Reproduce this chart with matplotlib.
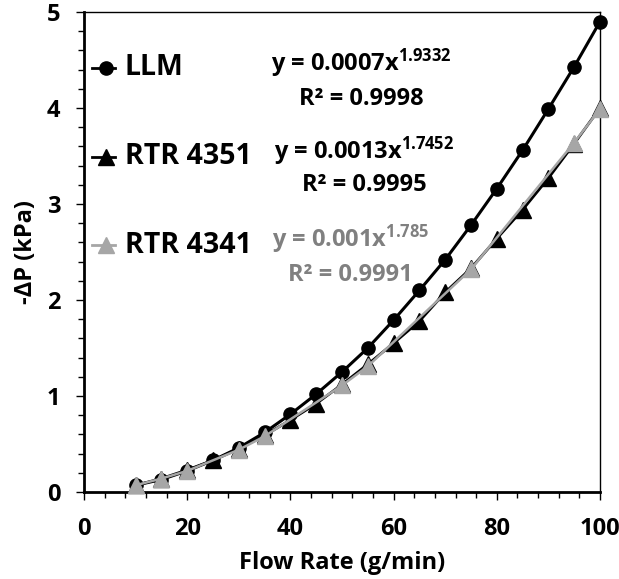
import matplotlib
matplotlib.use("Agg")
import matplotlib.pyplot as plt
from matplotlib.ticker import MultipleLocator

plt.rcParams['font.family'] = ['Open Sans', 'DejaVu Sans']
plt.rcParams['font.weight'] = 'bold'
plt.rcParams['mathtext.fontset'] = 'custom'
plt.rcParams['mathtext.rm'] = 'Open Sans:bold'
plt.rcParams['mathtext.it'] = 'Open Sans:bold'
plt.rcParams['mathtext.bf'] = 'Open Sans:bold'

# Data
flow = [10, 15, 20, 25, 30, 35, 40, 45, 50, 55, 60, 65, 70, 75, 80, 85, 90, 95, 100]
llm = [0.07, 0.13, 0.22, 0.33, 0.46, 0.62, 0.81, 1.02, 1.25, 1.50, 1.79, 2.10,
       2.42, 2.78, 3.16, 3.56, 3.99, 4.43, 4.90]
rtr4351 = [0.07, 0.14, 0.23, 0.33, 0.45, 0.59, 0.75, 0.92, 1.12, 1.33, 1.55, 1.78,
           2.08, 2.33, 2.64, 2.94, 3.27, 3.63, 4.00]
flow_4341 = [10, 15, 20, 30, 35, 50, 55, 75, 95, 100]
rtr4341 = [0.07, 0.14, 0.22, 0.44, 0.58, 1.11, 1.31, 2.32, 3.64, 3.99]

series_names = ['LLM', 'RTR 4351', 'RTR 4341']
fit_eq = ['0.0007x', '0.0013x', '0.001x']
fit_exp = ['1.9332', '1.7452', '1.785']
fit_r2 = ['0.9998', '0.9995', '0.9991']

xlabel = 'Flow Rate (g/min)'
ylabel = '-ΔP (kPa)'

gray_m = '#A6A6A6'
gray_t = '#808080'

fig = plt.figure(figsize=(6.19, 5.79), dpi=100)
ax = fig.add_axes([84/619, 1-492/579, (600-84)/619, (492-12)/579])

ax.plot(flow, llm, '-', color='black', lw=2.2, marker='o', ms=9.5,
        mfc='black', mec='black', clip_on=False, zorder=3)
ax.plot(flow, rtr4351, '-', color='black', lw=2.0, marker='^', ms=12,
        mfc='black', mec='black', clip_on=False, zorder=3)
ax.plot(flow_4341, rtr4341, '-', color=gray_m, lw=1.8, marker='^', ms=12,
        mfc=gray_m, mec=gray_m, clip_on=False, zorder=4)

ax.set_xlim(0, 100)
ax.set_ylim(0, 5)
ax.xaxis.set_major_locator(MultipleLocator(20))
ax.xaxis.set_minor_locator(MultipleLocator(4))
ax.yaxis.set_major_locator(MultipleLocator(1))
ax.yaxis.set_minor_locator(MultipleLocator(0.2))
ax.tick_params(axis='both', which='major', direction='out', length=6, width=1.0,
               labelsize=17, color='black')
ax.tick_params(axis='both', which='minor', direction='out', length=4.5, width=1.0,
               color='black')
ax.tick_params(axis='x', which='major', pad=12)
ax.tick_params(axis='y', which='major', pad=11)
for lab in ax.get_xticklabels() + ax.get_yticklabels():
    lab.set_fontweight('bold')

for s in ['left', 'bottom']:
    ax.spines[s].set_linewidth(2.0)
for s in ['top', 'right']:
    ax.spines[s].set_linewidth(1.0)

ax.set_xlabel(xlabel, fontsize=17, fontweight='bold', labelpad=7)
ax.set_ylabel(ylabel, fontsize=17, fontweight='bold', labelpad=6)

# Legend drawn inside the axes
leg_y = [4.42, 3.49, 2.57]
leg_marker = ['o', '^', '^']
leg_ms = [9.5, 12, 12]
leg_col = ['black', 'black', gray_m]
for name, yv, mk, ms, c in zip(series_names, leg_y, leg_marker, leg_ms, leg_col):
    ax.plot([1.55, 6.0], [yv, yv], '-', color=c, lw=2.0, zorder=5)
    ax.plot([4.2], [yv], marker=mk, ms=ms, color=c, zorder=6)
    ax.text(7.9, yv, name, fontsize=20.5, fontweight='bold', color='black',
            va='center', ha='left')

# Trendline equations
eq_pos = [(53.8, 4.46, 4.09), (54.3, 3.55, 3.2), (51.6, 2.63, 2.26)]
eq_col = ['black', 'black', gray_t]
for (xc, ye, yr), eq, ex, r2, c in zip(eq_pos, fit_eq, fit_exp, fit_r2, eq_col):
    ax.text(xc, ye, 'y = ' + eq + '$^{' + ex + '}$', fontsize=17, fontweight='bold',
            color=c, ha='center', va='center')
    ax.text(xc, yr, 'R² = ' + r2, fontsize=17, fontweight='bold',
            color=c, ha='center', va='center')

fig.savefig('out.png', dpi=100)
